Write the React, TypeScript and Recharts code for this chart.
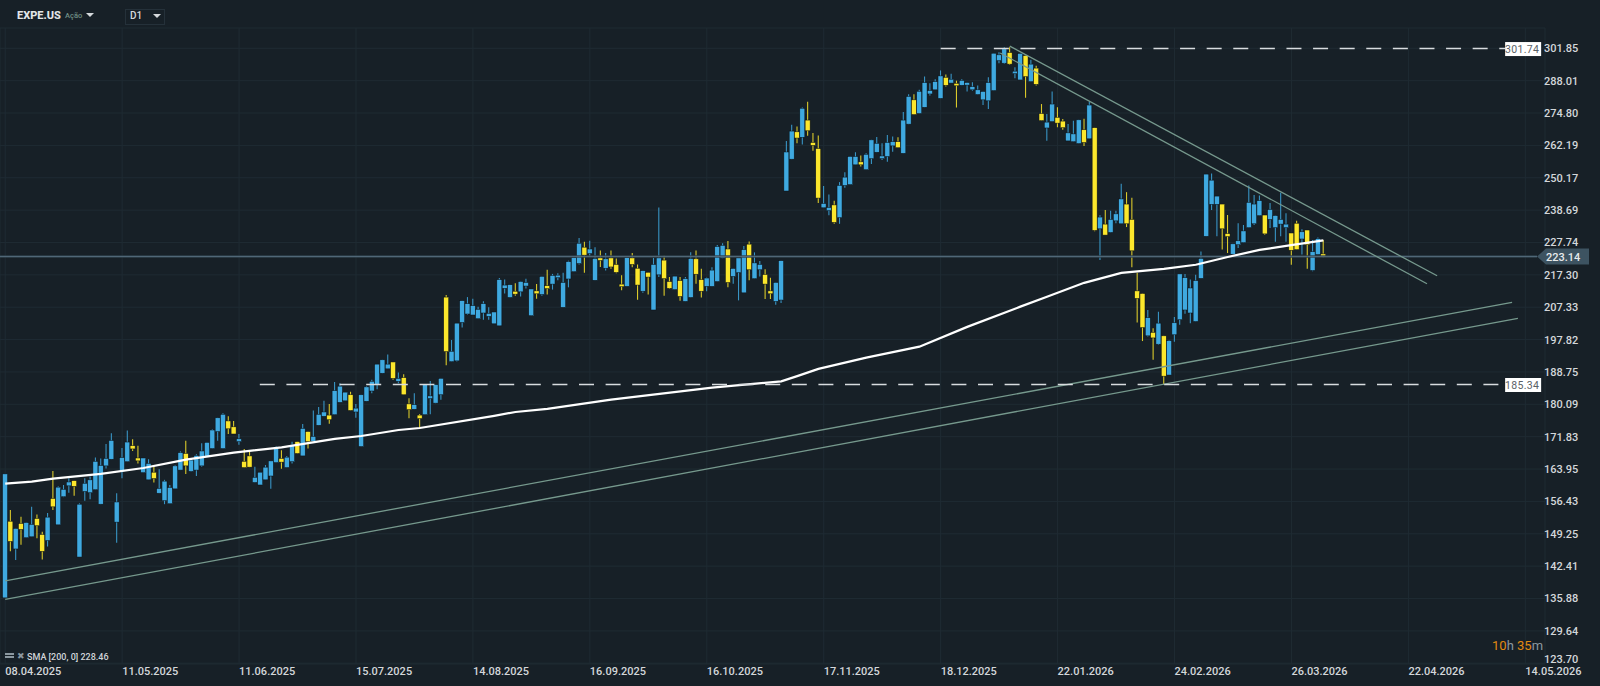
import React from 'react';
import { Bar, CartesianGrid, ComposedChart, Line, ReferenceDot, ReferenceLine, XAxis, YAxis } from 'recharts';

const priceTicks = [301.85, 288.01, 274.8, 262.19, 250.17, 238.69, 227.74, 217.3, 207.33, 197.82, 188.75, 180.09, 171.83, 163.95, 156.43, 149.25, 142.41, 135.88, 129.64, 123.7];
const dateTicks = [0, 22, 44, 66, 88, 110, 132, 154, 176, 198, 220, 242, 264, 286];
const dateLabels = ['08.04.2025', '11.05.2025', '11.06.2025', '15.07.2025', '14.08.2025', '16.09.2025', '16.10.2025', '17.11.2025', '18.12.2025', '22.01.2026', '24.02.2026', '26.03.2026', '22.04.2026', '14.05.2026'];

// open, high, low, close
const ohlc: number[][] = [
  [136, 162.8, 136, 162.8], [152, 154.5, 145.5, 147.6], [146, 150.4, 143.7, 150.4], [151.5, 153, 146.9, 150.2], [148.4, 151.7, 148.4, 151.7],
  [148.6, 155.2, 148.6, 151.3], [152.6, 153.5, 148.3, 151], [149.1, 149.7, 143.8, 145.5], [147.8, 153.8, 146.5, 152.9], [157.1, 163.5, 154.5, 155.2],
  [151.2, 159.9, 151.2, 159.7], [157.5, 160.2, 157.4, 159.2], [160, 161.8, 158.4, 160.9], [161.2, 161.2, 157.7, 159.9], [144.3, 156, 144.3, 155.8],
  [158.7, 161.8, 156.6, 160.6], [158.4, 162.2, 156.9, 161.4], [159.1, 166.7, 159.1, 165.8], [155.8, 166.5, 155.8, 164.8], [164.7, 170, 164.1, 166.5],
  [166.3, 172.7, 166.3, 170.9], [151.8, 158.3, 147.3, 156.3], [163.3, 169, 161.8, 166.7], [165.7, 173.4, 165.7, 170.5], [169.6, 171.2, 168.3, 168.8],
  [166.6, 169.6, 165.3, 165.9], [163.1, 166.6, 163.1, 166.6], [161.4, 166.3, 161.4, 165.3], [163.2, 164.9, 160.8, 161.7], [158.3, 163.9, 158.3, 159.4],
  [156.6, 161.4, 155.8, 161.1], [155.9, 160.2, 155.9, 159.6], [159.3, 164.9, 159.3, 164.7], [163.7, 168.2, 163.7, 167.9], [167.7, 170.8, 162.8, 164.7],
  [163.4, 166.5, 163.3, 166.1], [163.7, 167.5, 162.3, 167.2], [164.7, 170.2, 164.5, 168.3], [166.9, 170.4, 166.9, 170.4], [168.9, 173.7, 168.9, 173.5],
  [173.1, 176.6, 170.8, 176.6], [168.9, 177.8, 168.9, 177.5], [175.8, 177, 172.5, 173.8], [174.3, 175.8, 172.5, 172.5], [170.6, 172.5, 169.8, 171.3],
  [165.8, 168.8, 164.3, 164.3], [167.1, 168.4, 164.4, 164.4], [160.8, 164.5, 160.8, 162], [160.2, 163.2, 160.2, 163.2], [161.4, 164.9, 161.4, 164.4],
  [162.3, 165.9, 159.3, 165.9], [165.5, 169.4, 165.5, 169], [166.5, 168.5, 164, 165.6], [164.3, 167.1, 164.3, 166.8], [165.7, 170.6, 165.3, 169.8],
  [170.6, 170.6, 167.7, 167.7], [167.1, 175, 167.1, 173.9], [173.1, 173.1, 168.9, 170.6], [170.7, 178.5, 170.7, 171.9], [174.7, 179.4, 174.7, 177.5],
  [177, 181, 177, 178.1], [177.3, 180.2, 175.1, 176.1], [177.4, 186, 177.4, 183.7], [180.6, 185.7, 180.6, 184.9], [181, 183.3, 181, 183.3],
  [182.6, 183.4, 178.5, 178.5], [178.1, 180.2, 176.6, 179.1], [169.4, 182.6, 169.4, 182.6], [180.9, 184.9, 180.9, 184.7], [183.6, 186.6, 183, 186.2],
  [185.3, 190.9, 184.1, 190.9], [188.4, 192.1, 188.4, 192.1], [189.6, 193.6, 189.6, 190.9], [191.5, 191.5, 186.6, 187], [186.2, 188.6, 185.7, 187],
  [187.2, 188.1, 182.6, 182.6], [180.2, 181.7, 176.5, 178.7], [178.8, 183, 178.8, 180], [177.3, 177.6, 173.9, 176.4], [177.4, 185.3, 177.4, 185.3],
  [181.6, 186.3, 177.5, 182.3], [180.4, 185.3, 180.4, 185.3], [182.6, 187, 181.3, 187], [210.4, 211, 190.6, 194.4], [191.6, 197.7, 191.6, 194.5],
  [191.8, 202.6, 191.6, 202.6], [202.8, 209.3, 201.3, 209.3], [205.3, 210.4, 205.1, 208.4], [205, 209.9, 205, 207.8], [203.9, 207.5, 203.9, 206.7],
  [205.6, 209.1, 203.6, 208.4], [204.6, 207.3, 203.6, 205.5], [202.4, 205.9, 202.4, 205.9], [201.8, 216.3, 201.8, 215.8], [213.1, 215.8, 211.5, 214.1],
  [210.3, 214.2, 210.3, 214.2], [212.2, 214.7, 210.8, 211.3], [212, 215.2, 210.6, 215.2], [213.8, 216.1, 213, 214.9], [204.8, 212.9, 204.8, 212.9],
  [212.3, 214.4, 209.9, 211.4], [211.2, 216.8, 210.8, 216.8], [213.9, 218.9, 211.2, 213], [214.4, 217.6, 212.7, 217.1], [216.4, 217.8, 215.6, 217.2],
  [207.3, 218, 207.3, 214.9], [216, 221.8, 213.4, 221.5], [218.3, 222.8, 218.3, 222.8], [220.9, 229.2, 220.6, 227.5], [226.2, 228, 218, 223.6],
  [224.1, 228.3, 223.2, 225.6], [215.6, 226.2, 215.6, 222.5], [222.7, 225.1, 219.8, 221.9], [219.4, 224.3, 218.7, 222.4], [222.7, 225.1, 219.2, 219.8],
  [220.6, 222.5, 217.8, 218.1], [214.4, 217.2, 212.5, 213.6], [213.7, 222.8, 213.7, 222.8], [222.7, 224.3, 219.7, 220.6], [219.4, 220.6, 209.6, 214.1],
  [212.2, 218.6, 211.7, 218.6], [218.1, 218.1, 211.2, 216.6], [206.5, 222.7, 206.5, 220.6], [217.3, 239.6, 216.6, 222.7], [222, 223.4, 210.8, 216.1],
  [215.2, 216.6, 212.9, 213.1], [212.7, 216.9, 212.7, 216.9], [215.5, 216.6, 209.3, 210.6], [209.1, 216.6, 209.1, 216.1], [210.3, 224.5, 210.3, 222.5],
  [222.4, 225.1, 214.5, 217.5], [215.8, 219.2, 210.3, 212.2], [213.7, 216.5, 212.2, 216.3], [213.7, 219.7, 213.7, 218.8], [215.2, 226.9, 215.2, 226.4],
  [222.6, 227.5, 222.6, 226.8], [225.6, 228.2, 213.4, 214.9], [216.8, 219.3, 214.5, 219.3], [218, 222.7, 209.4, 222.7], [211.7, 226.6, 211.7, 225.4],
  [227.2, 228.1, 215.6, 218.9], [216.1, 224.5, 216.1, 221.1], [218.9, 221.7, 216.8, 220.6], [217.4, 219.1, 209.8, 214.4], [212.3, 216.4, 209.8, 211.4],
  [209.1, 214.9, 208.1, 214.9], [209.5, 221.8, 208.6, 221.8], [245.4, 263.9, 245.4, 259.7], [257, 270.2, 257, 267.7], [267.4, 269.5, 263, 265],
  [265.3, 277, 262.5, 276.7], [272, 279.3, 265.9, 267.8], [263.3, 266.9, 260.2, 262.2], [261, 266, 241.2, 242.9], [239.5, 247.2, 239.5, 241],
  [238.5, 244.2, 236.9, 239.6], [240.5, 242, 234, 234.5], [236.1, 248.6, 234, 247.4], [247.4, 252.2, 246.6, 250.4], [247.7, 258, 247.7, 258],
  [254.9, 259.6, 254.9, 258], [256, 258.4, 254.3, 254.9], [253.1, 259.2, 253.1, 258.8], [257.2, 264.3, 255.2, 264.3], [259.6, 265.4, 259.6, 263],
  [257.2, 263, 256.7, 258.2], [258, 266.2, 256, 263.3], [262, 265.6, 259.8, 263.6], [263.6, 265.3, 261.3, 261.3], [259.2, 275.2, 259.2, 272],
  [270.4, 282.4, 270.4, 281.5], [280.1, 282.4, 274.2, 274.2], [274.6, 284.2, 274.6, 283.6], [277.1, 289.7, 277.1, 287.2], [282.5, 286.9, 281.9, 283.9],
  [284.2, 288.6, 284.2, 287.6], [280.7, 292.3, 280.7, 290], [289.4, 290.6, 285.6, 286.1], [287, 290.9, 287, 288.6], [286.9, 288, 277, 285.9],
  [286.1, 288.6, 286.1, 288.1], [286.2, 287.2, 283.5, 287.2], [284.2, 287.3, 283.8, 285.5], [282.3, 286, 282.3, 284.2], [280.1, 283.5, 278, 283.5],
  [279.7, 289.4, 276.4, 287.2], [283.9, 299.7, 283.9, 299.7], [296.5, 300.1, 295.4, 299], [295.4, 302.3, 295.1, 301.6], [300, 302.3, 294.7, 295],
  [291, 293.7, 289, 292], [288.3, 299.6, 288.3, 299.6], [298.7, 298.7, 281, 289.7], [287.6, 296.9, 287.6, 295], [293.3, 294.3, 286, 286.5],
  [274.6, 278.4, 271.8, 271.8], [268.9, 274.4, 264, 271.2], [271.4, 283.5, 271.4, 278.4], [273.1, 277.1, 269.2, 270.8], [271.6, 272.4, 268.2, 269],
  [263.9, 270.5, 263.9, 267], [263.6, 271.7, 263.6, 266.6], [262.9, 272.1, 262.9, 272.1], [268.2, 272.5, 262, 263.3], [264.7, 279.3, 264.7, 278],
  [269, 269, 231.5, 231.8], [232.3, 236.9, 222, 236.3], [233.9, 238.7, 230.2, 230.2], [231.1, 238.5, 231.1, 235.5], [235, 238.5, 234.2, 237.4],
  [234, 248, 234, 242.6], [240.8, 245, 232.9, 234], [235.5, 243, 219.7, 225], [212.3, 218, 202.8, 210], [211.5, 211.5, 197.4, 201.3],
  [198.9, 206.5, 198.7, 204.2], [199.9, 201.1, 192.1, 198.3], [196.5, 206, 196.3, 202.6], [198.9, 198.9, 185.4, 187.6], [187.9, 197.7, 187.9, 197.5],
  [199.2, 204.4, 197.2, 202.7], [203.6, 217.6, 202.1, 217.6], [206.5, 217.6, 205.4, 216.4], [205.6, 215.8, 202.6, 213.2], [203.1, 217.3, 203.1, 215.5],
  [216.2, 224.8, 216.2, 222.5], [229.8, 251.5, 229.8, 251.5], [240.7, 251.7, 238.7, 249.3], [240.7, 243.6, 229.8, 243.6], [240.8, 240.8, 225.4, 232.3],
  [230.7, 237, 224.3, 229.7], [223.9, 227.3, 223.9, 227.3], [227, 234.2, 225.9, 228.3], [227.7, 233.6, 227.7, 231.6], [232.7, 247.4, 232.7, 241.4],
  [234, 244, 233.6, 240.8], [236.8, 243.8, 236.8, 242], [237, 237, 230.3, 230.6], [235.5, 241.2, 232.6, 238.9], [232.7, 236.8, 228, 236.8],
  [233.9, 244.8, 229.8, 235.5], [232.7, 237.6, 228, 233.9], [230.9, 230.9, 220.5, 225.2], [234.2, 235, 225.4, 225.4], [228.9, 232.2, 223.8, 231.3],
  [231.9, 231.9, 219.2, 227], [218.7, 228.6, 218.4, 224.7], [223.8, 229.4, 223.8, 229], [224, 228.6, 222.9, 223.1],
];

// SMA 200 at these bars
const smaBars = [0, 5, 9, 18, 26, 34, 43, 52, 62, 67, 74, 78, 92, 96, 102, 114, 133, 146, 149, 153, 162, 172, 181, 191, 196, 203, 210, 218, 224, 230, 236, 241, 248];
const smaValues = [160.5, 161, 161.7, 162.8, 164.2, 166.2, 167.9, 169.2, 171.3, 172, 173.5, 174, 177.1, 178.1, 178.9, 181.3, 184.5, 186.2, 187.6, 189.6, 192.7, 195.8, 201.5, 207.5, 210.5, 214.8, 217.9, 219.2, 220.5, 223, 225.3, 226.6, 228.46];

const channelUp = [{ x: 0, y: 139.4 }, { x: 283.5, y: 208.8 }];
const channelLow = [{ x: 0, y: 135.7 }, { x: 284.6, y: 204 }];
const wedgeUp = [{ x: 189, y: 302.8 }, { x: 269.4, y: 217 }];
const wedgeLow = [{ x: 187.2, y: 299.8 }, { x: 267.5, y: 214.5 }];
const resistance = [{ x: 176, y: 301.74 }, { x: 282.2, y: 301.74 }];
const support = [{ x: 47.9, y: 185.34 }, { x: 282.2, y: 185.34 }];
const lastPrice = 223.14;

const data = ohlc.map(([open, high, low, close], i) => {
  const k = smaBars.indexOf(i);
  return { i, open, high, low, close, sma: k >= 0 ? smaValues[k] : null };
});

const BLUE = '#3fa9e0';
const YELLOW = '#fce72c';
const BG = '#172027';
const TXT = '#d3d7da';
const TREND = '#76998d';
const FONT = 'Roboto, sans-serif';

const Candle = (props: any) => {
  const { x, y, width, height, payload } = props;
  const { open, high, low, close } = payload;
  const span = Math.log(high) - Math.log(low) || 1;
  const py = (p: number) => y + (height * (Math.log(high) - Math.log(p))) / span;
  const cx = x + width / 2;
  const col = close >= open ? BLUE : YELLOW;
  const top = py(Math.max(open, close));
  const bot = py(Math.min(open, close));
  return (
    <g>
      <line x1={cx} x2={cx} y1={y} y2={y + height} stroke={col} strokeWidth={1.1} opacity={0.85} />
      <rect x={cx - 2.5} y={top} width={5} height={Math.max(bot - top, 2.5)} fill={col} stroke="#0b1016" strokeWidth={0.5} />
    </g>
  );
};

const PriceTick = ({ x, y, payload }: any) => (
  <text x={x - 3} y={Math.min(y, 659)} dy={4} fill={TXT} fontFamily={FONT} fontWeight={500} fontSize={11}>{payload.value.toFixed(2)}</text>
);

const DateTick = ({ x, y, payload }: any) => (
  <text x={x} y={y} dy={5} fill={TXT} fontFamily={FONT} fontWeight={500} fontSize={11}>{dateLabels[dateTicks.indexOf(payload.value)]}</text>
);

const LevelTag = ({ cx, cy, text }: any) => (
  <g>
    <rect x={cx} y={cy - 6.5} width={36} height={14} fill="#ffffff" />
    <text x={cx + 34} y={cy + 4} textAnchor="end" fill="#5a6166" fontFamily={FONT} fontSize={10.5} letterSpacing={0.3}>{text}</text>
  </g>
);

const LastTag = ({ cx, cy }: any) => (
  <g>
    <path d={`M${cx} ${cy} L${cx + 9} ${cy - 8} H${cx + 52} V${cy + 8} H${cx + 9} Z`} fill="#3d5361" />
    <text x={cx + 9} y={cy + 4} fill="#e6e9eb" fontFamily={FONT} fontWeight={500} fontSize={11}>{lastPrice.toFixed(2)}</text>
  </g>
);

const Caret = ({ left, top }: { left: number; top: number }) => (
  <div style={{ position: 'absolute', left, top, width: 0, height: 0, borderLeft: '4px solid transparent', borderRight: '4px solid transparent', borderTop: '4px solid #d5d9dc' }} />
);

const label = (left: number, top: number, size: number, color: string, text: React.ReactNode, weight = 500) => (
  <div style={{ position: 'absolute', left, top, fontSize: size, color, fontWeight: weight, lineHeight: `${size + 2}px`, whiteSpace: 'nowrap' }}>{text}</div>
);

export default function App() {
  return (
    <div style={{ position: 'fixed', left: 0, top: 0, width: 1600, height: 686, background: BG, fontFamily: FONT, overflow: 'hidden' }}>
      <ComposedChart width={1600} height={686} data={data} margin={{ top: 28, right: 0, bottom: 0, left: 0 }}>
        <CartesianGrid stroke="#1f2b33" strokeWidth={1} />
        <XAxis dataKey="i" type="number" domain={[-0.98, 289.7]} allowDataOverflow ticks={dateTicks} interval={0} height={22} axisLine={false} tickLine={false} tickMargin={0} tick={<DateTick />} />
        <YAxis orientation="right" width={55} scale="log" domain={[123.56, 310.87]} allowDataOverflow ticks={priceTicks} interval={0} axisLine={false} tickLine={false} tickMargin={0} tickSize={2} tick={<PriceTick />} />
        <Bar dataKey={(d: any) => [d.low, d.high]} barSize={5} isAnimationActive={false} shape={<Candle />} />
        <ReferenceLine segment={[{ x: -0.98, y: lastPrice }, { x: 288.2, y: lastPrice }]} stroke="#2f414d" strokeOpacity={0.7} strokeWidth={3} />
        <ReferenceLine segment={[{ x: -0.98, y: lastPrice }, { x: 288.2, y: lastPrice }]} stroke="#536b7a" strokeWidth={1} />
        <Line dataKey="sma" type="linear" connectNulls dot={false} activeDot={false} stroke="#ffffff" strokeWidth={2.2} isAnimationActive={false} />
        <ReferenceLine segment={channelUp} stroke={TREND} strokeWidth={1.3} />
        <ReferenceLine segment={channelLow} stroke={TREND} strokeWidth={1.3} />
        <ReferenceLine segment={wedgeUp} stroke={TREND} strokeWidth={1.3} />
        <ReferenceLine segment={wedgeLow} stroke={TREND} strokeWidth={1.3} />
        <ReferenceLine segment={resistance} stroke="#d8dcdf" strokeWidth={1.5} strokeDasharray="15 11.6" />
        <ReferenceLine segment={support} stroke="#d8dcdf" strokeWidth={1.5} strokeDasharray="15 11.6" />
        <ReferenceDot x={282.2} y={301.74} r={0} ifOverflow="visible" shape={(p: any) => <LevelTag {...p} text="301.74" />} />
        <ReferenceDot x={282.2} y={185.34} r={0} ifOverflow="visible" shape={(p: any) => <LevelTag {...p} text="185.34" />} />
        <ReferenceDot x={288.2} y={lastPrice} r={0} ifOverflow="visible" shape={(p: any) => <LastTag {...p} />} />
      </ComposedChart>

      {label(17, 9, 11, '#e2e5e7', 'EXPE.US', 800)}
      {label(65, 11, 7.5, '#6f8f84', 'Ação')}
      <Caret left={86} top={13} />
      <div style={{ position: 'absolute', left: 125, top: 9, width: 38, height: 14, border: '1px solid #25313a' }} />
      {label(130, 10, 10, '#d5d9dc', 'D1')}
      <Caret left={153} top={14} />

      <div style={{ position: 'absolute', left: 5, top: 653, width: 9, height: 2, background: '#8b979f', boxShadow: '0 3px 0 #8b979f' }} />
      {label(17, 651, 9, '#8b979f', '✖')}
      {label(27, 652, 9, '#cfd4d8', 'SMA [200, 0] 228.46')}
      {label(1492, 638, 13, '#8b979f', <><span style={{ color: '#e08a12' }}>10</span>h <span style={{ color: '#e08a12' }}>35</span>m</>, 400)}
    </div>
  );
}
